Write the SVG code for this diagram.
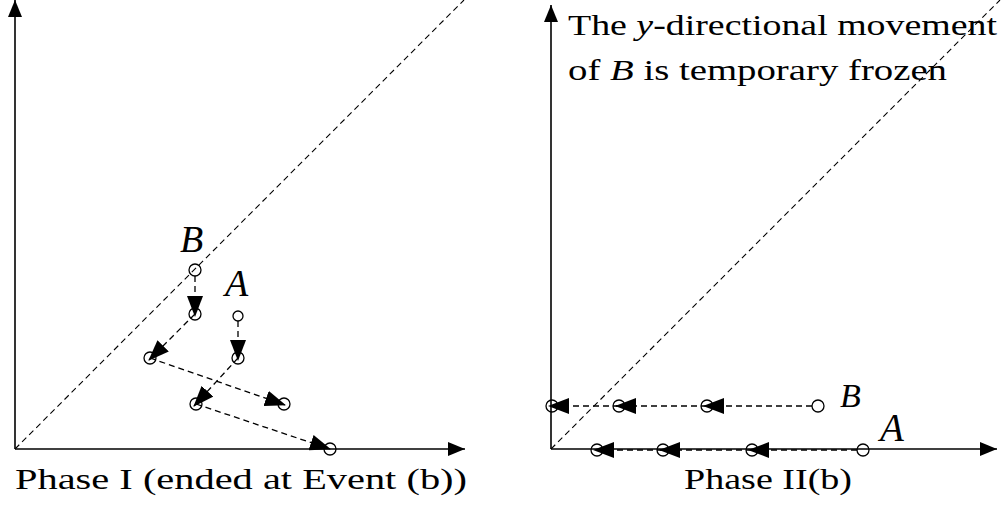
<svg xmlns="http://www.w3.org/2000/svg" width="1008" height="505" viewBox="0 0 1008 505">
<style>
.axis{stroke:#000;stroke-width:1.6;fill:none}
.diag{stroke:#000;stroke-width:1.1;stroke-dasharray:6 4;fill:none}
.conn{stroke:#000;stroke-width:1.3;stroke-dasharray:6 4;fill:none}
.pt{stroke:#000;stroke-width:1.3;fill:none}
text{font-family:'Liberation Serif','Times New Roman',serif;fill:#000}
.it{font-style:italic}
</style>
<defs>
<marker id="ah" viewBox="0 0 21 16" refX="20" refY="8" markerWidth="21" markerHeight="16" markerUnits="userSpaceOnUse" orient="auto">
<path d="M0,0 L21,8 L0,16 z" fill="#000" stroke="none"/>
</marker>
<marker id="ax" viewBox="0 0 17 14" refX="17" refY="7" markerWidth="17" markerHeight="14" markerUnits="userSpaceOnUse" orient="auto">
<path d="M0,0 L17,7 L0,14 z" fill="#000" stroke="none"/>
</marker>
</defs>
<g id="axes">
<line class="axis" x1="15" y1="449" x2="15" y2="0" marker-end="url(#ax)"/>
<line class="axis" x1="15" y1="449" x2="465" y2="449" marker-end="url(#ax)"/>
<line class="diag" x1="15" y1="449" x2="464" y2="0"/>
<line class="axis" x1="551" y1="449" x2="551" y2="5" marker-end="url(#ax)"/>
<line class="axis" x1="551" y1="449" x2="997" y2="449" marker-end="url(#ax)"/>
<line class="diag" x1="551" y1="449" x2="1000" y2="0"/>
</g>
<g id="connectors">
<line class="conn" x1="195" y1="276" x2="195" y2="316" marker-end="url(#ah)"/>
<line class="conn" x1="195" y1="314" x2="149" y2="360" marker-end="url(#ah)"/>
<line class="conn" x1="150" y1="358" x2="285" y2="405" marker-end="url(#ah)"/>
<line class="conn" x1="238" y1="321" x2="238" y2="360" marker-end="url(#ah)"/>
<line class="conn" x1="238" y1="358" x2="194" y2="406" marker-end="url(#ah)"/>
<line class="conn" x1="196" y1="404" x2="330" y2="449" marker-end="url(#ah)"/>
<line class="conn" x1="812" y1="406" x2="704" y2="406" marker-end="url(#ah)"/>
<line class="conn" x1="707" y1="406" x2="616" y2="406" marker-end="url(#ah)"/>
<line class="conn" x1="619" y1="406" x2="549" y2="406" marker-end="url(#ah)"/>
<line class="conn" x1="857" y1="450" x2="749" y2="450" marker-end="url(#ah)"/>
<line class="conn" x1="752" y1="450" x2="660" y2="450" marker-end="url(#ah)"/>
<line class="conn" x1="663" y1="450" x2="594" y2="450" marker-end="url(#ah)"/>
</g>
<g id="nodeB">
<circle class="pt" cx="195" cy="270" r="6"/>
<circle class="pt" cx="195" cy="314" r="6"/>
<circle class="pt" cx="150" cy="358" r="6"/>
<circle class="pt" cx="284" cy="404" r="6"/>
<text class="it" x="180" y="252" font-size="38">B</text>
</g>
<g id="nodeA">
<circle class="pt" cx="238" cy="316" r="5"/>
<circle class="pt" cx="238" cy="358" r="6"/>
<circle class="pt" cx="196" cy="404" r="6"/>
<circle class="pt" cx="330" cy="449" r="6"/>
<text class="it" x="225" y="296" font-size="38">A</text>
</g>
<g id="rowB">
<circle class="pt" cx="552" cy="406" r="6"/>
<circle class="pt" cx="619" cy="406" r="6"/>
<circle class="pt" cx="707" cy="406" r="6"/>
<circle class="pt" cx="818" cy="406" r="6"/>
<text class="it" x="840" y="407" font-size="34">B</text>
</g>
<g id="rowA">
<circle class="pt" cx="597" cy="450" r="6"/>
<circle class="pt" cx="663" cy="450" r="6"/>
<circle class="pt" cx="752" cy="450" r="6"/>
<circle class="pt" cx="863" cy="450" r="6"/>
<text class="it" x="880" y="441" font-size="39">A</text>
</g>
<g id="note">
<text x="568" y="35" font-size="30" textLength="429" lengthAdjust="spacingAndGlyphs">The <tspan class="it">y</tspan>-directional movement</text>
<text x="568" y="80" font-size="30" textLength="379" lengthAdjust="spacingAndGlyphs">of <tspan class="it">B</tspan> is temporary frozen</text>
</g>
<g id="captions">
<text x="15" y="489" font-size="30" textLength="452" lengthAdjust="spacingAndGlyphs">Phase I (ended at Event (b))</text>
<text x="684" y="489" font-size="30" textLength="168" lengthAdjust="spacingAndGlyphs">Phase II(b)</text>
</g>
</svg>
